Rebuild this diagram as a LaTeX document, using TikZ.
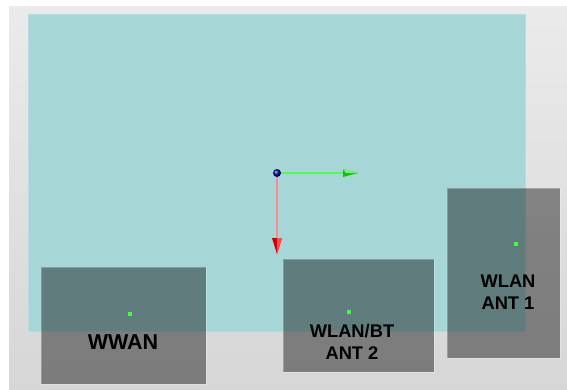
\documentclass[tikz,border=0pt]{standalone}
\usepackage{fontspec}
\setmainfont{Liberation Sans}
\begin{document}
\begin{tikzpicture}[x=1pt,y=-1pt,
  antbox/.style={fill=black, fill opacity=0.42, draw=white, draw opacity=0.25, line width=0.6pt},
  feed/.style={fill=green!75!white, draw=none, minimum size=4pt, inner sep=0pt},
  lbl/.style={font=\bfseries\fontsize{18.3}{21.7}\selectfont, align=center, inner sep=0pt, text=black},
  axisx/.style={draw=green!70!white, line width=1.2pt},
  axisy/.style={draw=red!45!white, line width=1.2pt}]
\useasboundingbox (0,0) rectangle (567,389);
\fill[white] (0,0) rectangle (567,389);
\shade[top color=black!8, bottom color=black!16] (9,6.5) rectangle (567,389);
% board
\fill[fill={rgb,255:red,166;green,214;blue,214}] (28,14) rectangle (525,331);
\draw[draw={rgb,255:red,178;green,222;blue,222}, line width=0.6pt] (28,14) rectangle (525,331);
% antenna boxes
\path[antbox] (41,267) rectangle (206,384);
\path[antbox] (283,259) rectangle (434,372);
\path[antbox] (447,188) rectangle (560,358);
% feed points
\node[feed] (f1) at (130,314) {};
\node[feed] (f2) at (349,312) {};
\node[feed] (f3) at (516,244) {};
% labels
\node[lbl, anchor=base, font=\bfseries\fontsize{21.5}{24}\selectfont] (l1) at (123,349) {WWAN};
\node[lbl, anchor=base] (l2) at (352,337.3) {WLAN/BT};
\node[lbl, anchor=base] (l2b) at (352,359) {ANT 2};
\node[lbl, anchor=base] (l3) at (508,287.3) {WLAN};
\node[lbl, anchor=base] (l3b) at (508,309) {ANT 1};
% axes
\coordinate (o) at (277,173);
\coordinate (xe) at (345,173);
\coordinate (ye) at (277,238);
\coordinate (xt) at (358,173);
\coordinate (yt) at (277,254);
\draw[axisx] (o) -- (xe);
\fill[green!70!black!90!white] (343,169) -- (xt) -- (343,177) -- cycle;
\fill[green!60!white] (343,169) -- (xt) -- (346,173) -- cycle;
\draw[axisy] (o) -- (ye);
\fill[red!80!black] (272,238) -- (yt) -- (282,238) -- cycle;
\fill[red!70!white] (277,238) -- (yt) -- (282,238) -- cycle;
\node[circle, inner sep=0pt, minimum size=8pt, ball color=blue!60!black] (orig) at (o) {};
\end{tikzpicture}
\end{document}
